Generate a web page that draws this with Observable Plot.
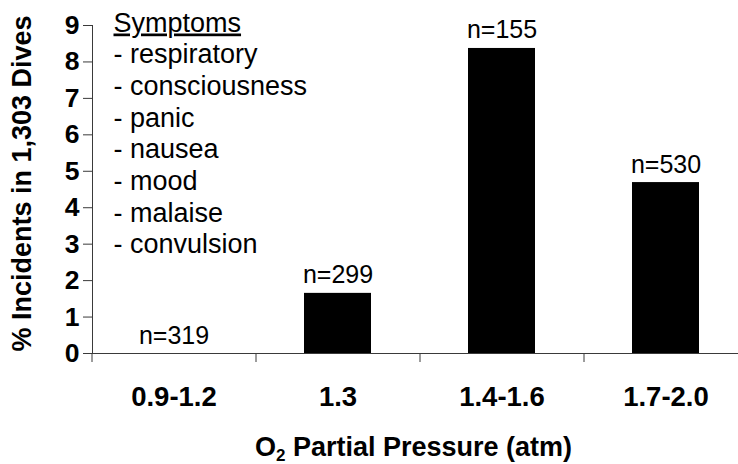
<!DOCTYPE html>
<html>
<head>
<meta charset="utf-8">
<script src="https://cdn.jsdelivr.net/npm/d3@7"></script>
<script src="https://cdn.jsdelivr.net/npm/@observablehq/plot@0.6"></script>
<style>
  html, body { margin: 0; padding: 0; background: white; overflow: hidden; }
</style>
</head>
<body>
<div id="chart"></div>
<script>
const categories = ["0.9-1.2", "1.3", "1.4-1.6", "1.7-2.0"];
const incidents = [0, 1.65, 8.37, 4.69];
const nDives = [319, 299, 155, 530];
const yTicks = [0, 1, 2, 3, 4, 5, 6, 7, 8, 9];
const symptoms = ["respiratory", "consciousness", "panic", "nausea", "mood", "malaise", "convulsion"];
const legendTitle = "Symptoms";
const yTitle = "% Incidents in 1,303 Dives";
const xTitle = "O\u2082 Partial Pressure (atm)";

const data = categories.map((c, i) => ({cat: c, value: incidents[i], n: nDives[i]}));
const legendText = [legendTitle, ...symptoms.map(s => "- " + s)].join("\n");

const xRange = [92, 748];
const step = (xRange[1] - xRange[0]) / categories.length;
const lineColor = "#3a3a3a";
const font = "Liberation Sans, Arial, sans-serif";

const svg = Plot.plot({
  width: 738,
  height: 464,
  marginLeft: 92,
  marginRight: 0,
  marginTop: 25,
  marginBottom: 111,
  style: {fontFamily: font, background: "white", color: "black"},
  x: {domain: categories, range: xRange, paddingInner: 0.59, paddingOuter: 0.295, label: null},
  y: {domain: [0, 9], label: null},
  marks: [
    Plot.barY(data, {x: "cat", y: "value", fill: "black", inset: 0}),
    Plot.frame({anchor: "left", stroke: lineColor}),
    Plot.ruleY([0], {stroke: lineColor}),
    Plot.axisY({ticks: yTicks, tickSize: 9, tickPadding: 4, fontSize: 26.5, fontWeight: "bold", stroke: lineColor, fill: "black", label: null, tickFormat: d => String(d)}),
    Plot.axisX({tickSize: 9, dx: -step / 2, tickFormat: () => "", stroke: lineColor, label: null}),
    Plot.axisX({tickSize: 0, tickPadding: 33, fontSize: 27.5, fontWeight: "bold", fill: "black", label: null}),
    Plot.text(data, {x: "cat", y: "value", text: d => "n=" + d.n, dy: -10, lineAnchor: "bottom", fontSize: 25, fill: "black"}),
    Plot.text([legendText], {text: d => d, frameAnchor: "top-left", textAnchor: "start", lineAnchor: "top", dx: 21, dy: -16.5, lineHeight: 1.174, fontSize: 27, fill: "black"}),
    Plot.text([yTitle], {text: d => d, frameAnchor: "left", textAnchor: "middle", lineAnchor: "middle", rotate: -90, dx: -70, dy: -6, fontSize: 27, fontWeight: "bold", fill: "black"}),
    Plot.text([xTitle], {text: d => d, frameAnchor: "bottom", textAnchor: "middle", dy: 102, dx: -2, lineAnchor: "bottom", fontSize: 27, fontWeight: "bold", fill: "black"})
  ]
});

// underline legend heading, make subscript in x title
d3.select(svg).selectAll("text").each(function() {
  const el = d3.select(this);
  const first = el.select("tspan");
  if (!first.empty() && first.text() === legendTitle) {
    first.style("text-decoration", "underline");
  }
  if (el.text() === xTitle) {
    el.text(null);
    el.append("tspan").text("O");
    el.append("tspan").text("2").attr("font-size", 17).attr("dy", 5);
    el.append("tspan").text(" Partial Pressure (atm)").attr("dy", -5);
  }
});

document.getElementById("chart").appendChild(svg);
</script>
</body>
</html>
